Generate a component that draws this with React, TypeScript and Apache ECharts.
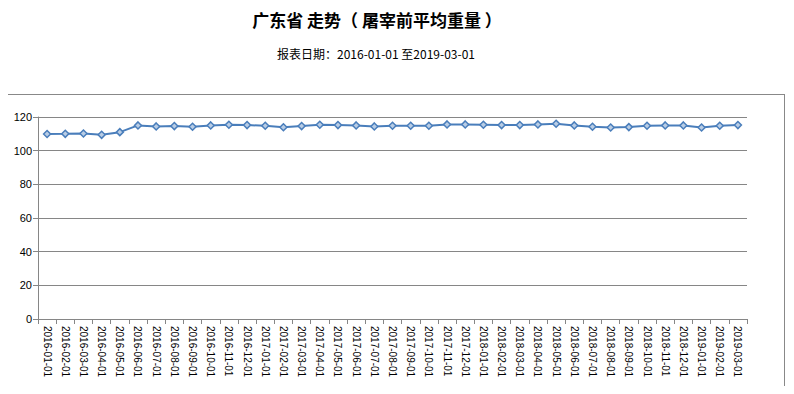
import React, { useEffect, useRef } from "react";
import * as echarts from "echarts";

const categories: string[] = [
  "2016-01-01", "2016-02-01", "2016-03-01", "2016-04-01", "2016-05-01", "2016-06-01",
  "2016-07-01", "2016-08-01", "2016-09-01", "2016-10-01", "2016-11-01", "2016-12-01",
  "2017-01-01", "2017-02-01", "2017-03-01", "2017-04-01", "2017-05-01", "2017-06-01",
  "2017-07-01", "2017-08-01", "2017-09-01", "2017-10-01", "2017-11-01", "2017-12-01",
  "2018-01-01", "2018-02-01", "2018-03-01", "2018-04-01", "2018-05-01", "2018-06-01",
  "2018-07-01", "2018-08-01", "2018-09-01", "2018-10-01", "2018-11-01", "2018-12-01",
  "2019-01-01", "2019-02-01", "2019-03-01",
];

const weights: number[] = [
  109.9, 110.0, 110.2, 109.4, 111.0, 115.0,
  114.4, 114.6, 114.2, 115.0, 115.4, 115.2,
  114.8, 113.9, 114.6, 115.4, 115.2, 115.0,
  114.4, 114.8, 114.8, 114.8, 115.6, 115.6,
  115.4, 115.2, 115.2, 115.6, 116.0, 115.0,
  114.2, 113.8, 114.0, 114.8, 115.0, 115.0,
  113.8, 114.8, 115.2,
];

const yTicks = { min: 0, max: 120, interval: 20 };

const titleText = "广东省 走势（ 屠宰前平均重量 ）";
const subtitleText = "报表日期：2016-01-01 至2019-03-01";

export default function App() {
  const ref = useRef<HTMLDivElement>(null);

  useEffect(() => {
    if (!ref.current) return;
    const chart = echarts.init(ref.current, undefined, { renderer: "svg" });
    chart.setOption({
      animation: false,
      backgroundColor: "transparent",
      title: [
        {
          text: titleText,
          left: 372,
          top: 6,
          textAlign: "center",
          textStyle: {
            fontFamily: "Noto Sans CJK SC",
            fontSize: 17,
            fontWeight: "bold",
            color: "#000000",
          },
        },
        {
          text: subtitleText,
          left: 371,
          top: 42,
          textAlign: "center",
          textStyle: {
            fontFamily: "Noto Sans CJK SC",
            fontSize: 12,
            fontWeight: "normal",
            color: "#000000",
          },
        },
      ],
      grid: { left: 38, right: 47, top: 117, bottom: 75, containLabel: false },
      xAxis: {
        type: "category",
        data: categories,
        boundaryGap: true,
        axisLine: { show: true, lineStyle: { color: "#868686", width: 1 } },
        axisTick: { show: true, alignWithLabel: false, length: 5, lineStyle: { color: "#868686" } },
        axisLabel: {
          interval: 0,
          rotate: -90,
          margin: 7,
          fontFamily: "Liberation Sans",
          fontSize: 10,
          color: "#000000",
        },
        splitLine: { show: false },
      },
      yAxis: {
        type: "value",
        min: yTicks.min,
        max: yTicks.max,
        interval: yTicks.interval,
        axisLine: { show: true, lineStyle: { color: "#868686", width: 1 } },
        axisTick: { show: true, length: 5, lineStyle: { color: "#868686" } },
        axisLabel: {
          margin: 6,
          fontFamily: "Liberation Sans",
          fontSize: 11,
          color: "#000000",
        },
        splitLine: { show: true, lineStyle: { color: "#868686", width: 1 } },
      },
      series: [
        {
          type: "line",
          data: weights,
          symbol: "diamond",
          symbolSize: 7,
          showSymbol: true,
          lineStyle: { color: "#4a7ebb", width: 2 },
          itemStyle: { color: "#b9cde5", borderColor: "#4a7ebb", borderWidth: 1.5 },
        },
      ],
    });
    return () => chart.dispose();
  }, []);

  return (
    <div style={{ position: "relative", width: 794, height: 394, margin: -8, background: "#ffffff" }}>
      <div
        style={{
          position: "absolute",
          left: 7,
          top: 94,
          width: 776,
          height: 291,
          border: "1px solid #888888",
          pointerEvents: "none",
        }}
      />
      <div ref={ref} style={{ position: "absolute", left: 0, top: 0, width: 794, height: 394 }} />
    </div>
  );
}
